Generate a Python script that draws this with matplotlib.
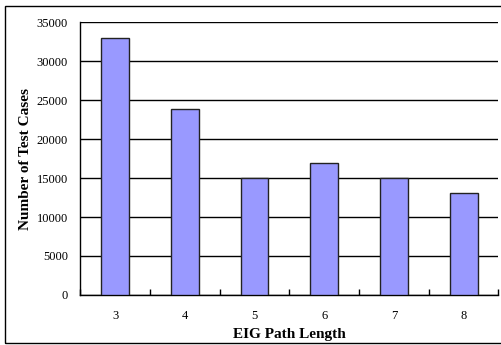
import matplotlib
matplotlib.use('Agg')
import matplotlib.pyplot as plt
from matplotlib.patches import Rectangle

lengths = ['3', '4', '5', '6', '7', '8']
cases = [33000, 23850, 14970, 16900, 15050, 13120]

plt.rcParams['font.family'] = ['Liberation Serif', 'DejaVu Serif']

fig = plt.figure(figsize=(5.02, 3.45), dpi=100)
ax = fig.add_axes([0.160, 0.145, 0.833, 0.791])

x = range(len(lengths))
ax.bar(x, cases, width=0.4, color='#9999ff', edgecolor='#222222', linewidth=1, zorder=3)

ax.set_xlim(-0.5, len(lengths) - 0.5)
ax.set_ylim(0, 35000)
ax.set_yticks(range(0, 35001, 5000))
ax.yaxis.grid(True, color='black', linewidth=1)
ax.set_axisbelow(True)
ax.set_xticks(list(x))
ax.set_xticklabels(lengths)
ax.set_xticks([i + 0.5 for i in range(-1, len(lengths))], minor=True)
ax.tick_params(axis='x', which='major', length=0, labelsize=9, pad=11)
ax.tick_params(axis='x', which='minor', direction='in', length=4, width=1)
ax.tick_params(axis='y', length=0, labelsize=9, pad=9)

for s in ['top', 'right']:
    ax.spines[s].set_visible(False)
ax.spines['left'].set_linewidth(1)
ax.spines['bottom'].set_linewidth(1)

ax.set_xlabel('EIG Path Length', fontsize=11, fontweight='bold', labelpad=4)
ax.set_ylabel('Number of Test Cases', fontsize=11, fontweight='bold', labelpad=3)

fig.patches.append(Rectangle((5 / 502, 2 / 345), 1.0, 337 / 345, transform=fig.transFigure,
                             fill=False, edgecolor='black', linewidth=1))

fig.savefig('out.png', dpi=100)
